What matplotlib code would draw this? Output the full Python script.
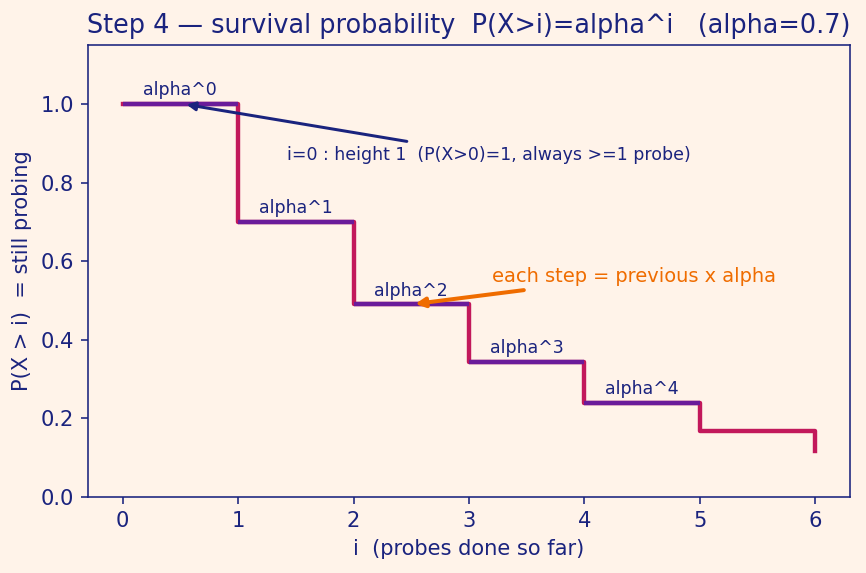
import numpy as np
import matplotlib
matplotlib.use("Agg")
import matplotlib.pyplot as plt

alpha = 0.7
steps = [0, 1, 2, 3, 4, 5, 6]
surv = [alpha ** i for i in steps]
labelled = [0, 1, 2, 3, 4]
step_labels = ["alpha^0", "alpha^1", "alpha^2", "alpha^3", "alpha^4"]

bg = "#fff3e9"
navy = "#1a237e"
purple = "#6a1b9a"
crimson = "#c2185b"
orange = "#ef6c00"

fig, ax = plt.subplots(figsize=(866 / 144, 573 / 144), dpi=144)
fig.patch.set_facecolor(bg)
ax.set_facecolor(bg)

# crimson staircase, purple tops for the first five levels
ax.plot(steps, surv, drawstyle="steps-post", color=crimson, lw=2.2)
for i in labelled:
    ax.hlines(surv[i], steps[i], steps[i] + 1, color=purple, lw=2.2)
    ax.text(steps[i] + 0.5, surv[i] + 0.012, step_labels[i], ha="center", va="bottom",
            fontsize=8.7, color=navy)

ax.annotate("i=0 : height 1  (P(X>0)=1, always >=1 probe)", xy=(0.52, 1.0), xytext=(3.17, 0.87),
            ha="center", va="center", fontsize=8.7, color=navy,
            arrowprops=dict(arrowstyle="-|>", color=navy, lw=1.5))
ax.annotate("each step = previous x alpha", xy=(2.5, surv[2]), xytext=(4.43, 0.562),
            ha="center", va="center", fontsize=9.7, color=orange,
            arrowprops=dict(arrowstyle="-|>", color=orange, lw=2))

ax.set_xlim(-0.3, 6.3)
ax.set_ylim(0, 1.15)
ax.set_xticks(steps)
ax.set_yticks([0.0, 0.2, 0.4, 0.6, 0.8, 1.0])
ax.set_title("Step 4 \u2014 survival probability  P(X>i)=alpha^i   (alpha=0.7)", color=navy, fontsize=12.75)
ax.set_xlabel("i  (probes done so far)", color=navy, fontsize=10.5)
ax.set_ylabel("P(X > i)  = still probing", color=navy, fontsize=10.5)
ax.tick_params(colors=navy, labelsize=10.5)
for s in ax.spines.values():
    s.set_color(navy)

fig.subplots_adjust(left=88 / 866, right=850 / 866, top=1 - 45 / 573, bottom=1 - 497 / 573)
fig.savefig("out.png", dpi=144, facecolor=bg)
